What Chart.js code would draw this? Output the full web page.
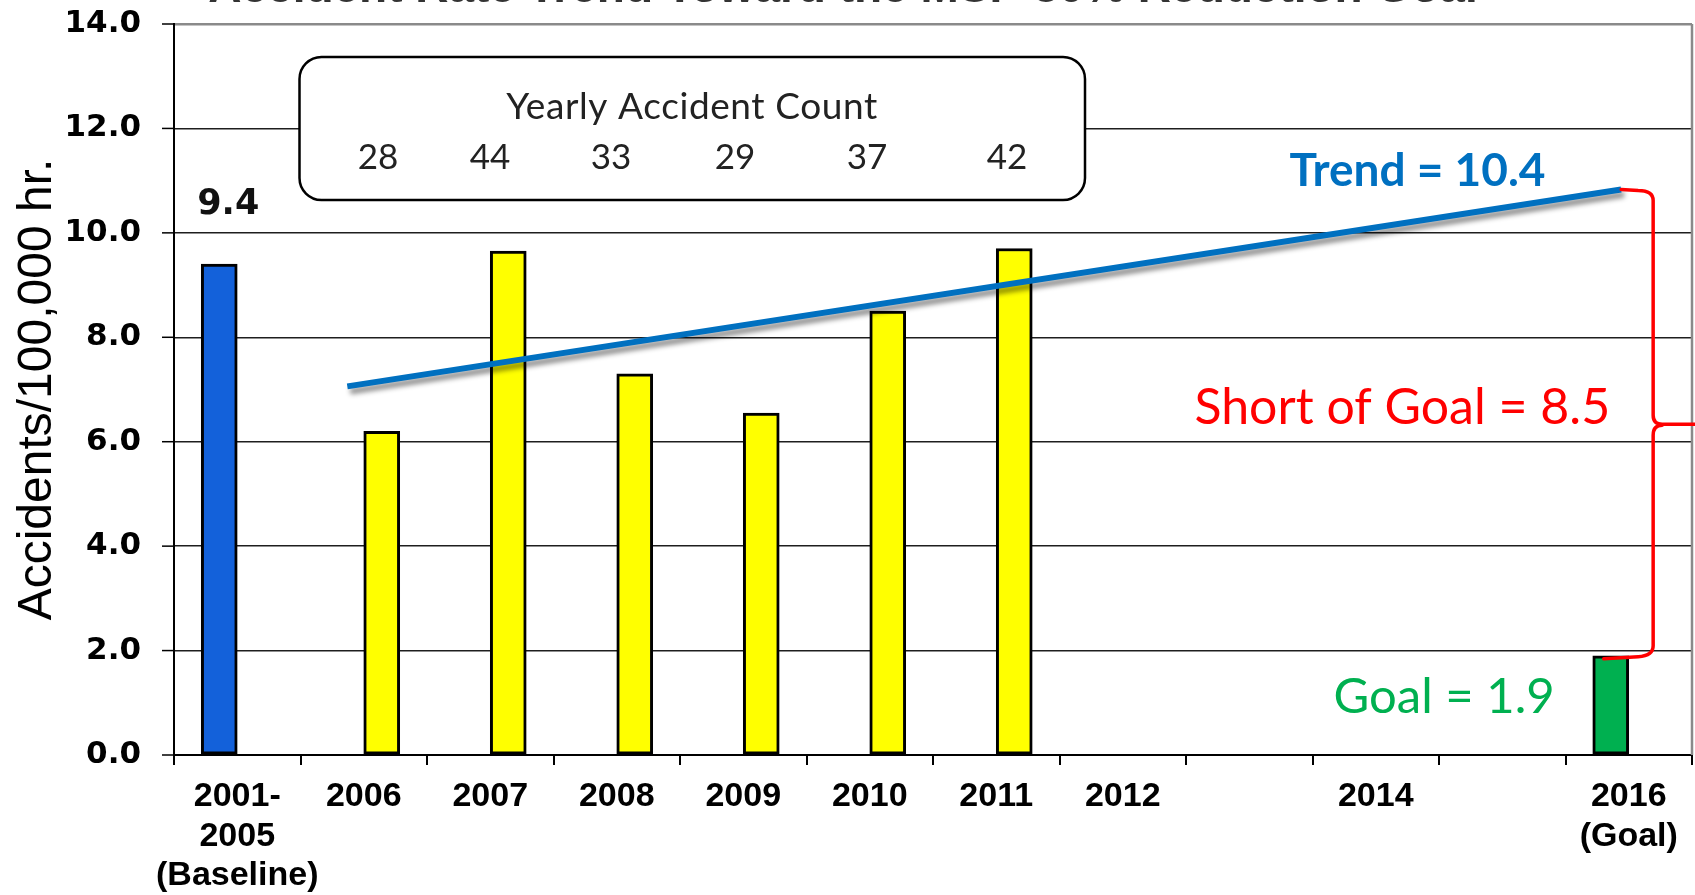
<!DOCTYPE html>
<html><head><meta charset="utf-8">
<script src="https://cdn.jsdelivr.net/npm/chart.js@4.4.1/dist/chart.umd.min.js"></script>
<style>html,body{margin:0;padding:0;background:#fff;overflow:hidden}</style>
</head><body>
<canvas id="c" width="1695" height="895"></canvas>
<script>
// ---- data ----
const chartTitle = 'Accident Rate Trend Toward the MSP 80% Reduction Goal';
const categories = ['2001-2005 (Baseline)','2006','2007','2008','2009','2010','2011','2012','2013','2014','2015','2016 (Goal)'];
const xTickLabels = [['2001-','2005','(Baseline)'],'2006','2007','2008','2009','2010','2011','2012','','2014','',['2016','(Goal)']];
const baselineGoalRates = [9.4,null,null,null,null,null,null,null,null,null,null,1.9];
const yearlyRates = [null,6.2,9.65,7.3,6.55,8.5,9.7,null,null,null,null,null];
const trendX = [0.87, 10.94];   // in category-index units
const trendY = [7.06, 10.83];
const yearlyCounts = [28,44,33,29,37,42];
const yTickValues = [0,2,4,6,8,10,12,14];
const baselineLabel = '9.4';
const trendLabel = 'Trend = 10.4';
const shortLabel = 'Short of Goal = 8.5';
const goalLabel = 'Goal = 1.9';
const countBoxTitle = 'Yearly Accident Count';

const BLUE = '#1361DA', GREEN = '#00B050', YELLOW = '#FFFF00', TREND = '#0070C0';
const SLOT = 18;        // half distance between the two bar slots (px)
const Y_TICK_MARK = 12; // visible tick mark length (px)

const annot = {
  id: 'annot',
  afterLayout(chart) {
    const ca = chart.chartArea, sc = chart.scales;
    const set = (s, d) => { s.left = ca.left + d; s.right = ca.right + d; s.width = ca.right - ca.left; s.configure(); };
    set(sc.xt, 0); set(sc.xl, -SLOT); set(sc.xr, SLOT);
  },
  beforeDatasetDraw(chart, args) {
    if (args.index === 2) {
      const ctx = chart.ctx;
      ctx.save();
      ctx.shadowColor = 'rgba(0,0,0,0.45)';
      ctx.shadowBlur = 5;
      ctx.shadowOffsetX = 3;
      ctx.shadowOffsetY = 5;
    }
  },
  afterDatasetDraw(chart, args) {
    if (args.index === 2) chart.ctx.restore();
  },
  beforeDatasetsDraw(chart) {
    const ctx = chart.ctx, ca = chart.chartArea, y = chart.scales.y;
    ctx.save();
    ctx.strokeStyle = '#000'; ctx.lineWidth = 1.5;
    yTickValues.forEach(v => {
      const py = y.getPixelForValue(v);
      ctx.beginPath(); ctx.moveTo(ca.left - Y_TICK_MARK, py); ctx.lineTo(ca.left, py); ctx.stroke();
    });
    ctx.restore();
  },
  afterDraw(chart) {
    const ctx = chart.ctx, ca = chart.chartArea;
    const y = chart.scales.y, xt = chart.scales.xt;
    ctx.save();
    ctx.strokeStyle = '#8a8a8a'; ctx.lineWidth = 2.5;
    ctx.beginPath(); ctx.moveTo(ca.right, ca.top); ctx.lineTo(ca.right, ca.bottom); ctx.stroke();

    // title, clipped by the top edge as in the original
    ctx.fillStyle = '#333';
    ctx.font = 'bold 46px "Liberation Sans", Arial, sans-serif';
    ctx.textAlign = 'center'; ctx.textBaseline = 'alphabetic';
    ctx.fillText(chartTitle, 843, 1.5);

    // count box
    const bx0 = 299.5, by0 = 57, bx1 = 1085, by1 = 200, r = 22;
    ctx.beginPath();
    ctx.moveTo(bx0 + r, by0);
    ctx.lineTo(bx1 - r, by0); ctx.arcTo(bx1, by0, bx1, by0 + r, r);
    ctx.lineTo(bx1, by1 - r); ctx.arcTo(bx1, by1, bx1 - r, by1, r);
    ctx.lineTo(bx0 + r, by1); ctx.arcTo(bx0, by1, bx0, by1 - r, r);
    ctx.lineTo(bx0, by0 + r); ctx.arcTo(bx0, by0, bx0 + r, by0, r);
    ctx.closePath();
    ctx.fillStyle = '#fff'; ctx.fill();
    ctx.strokeStyle = '#000'; ctx.lineWidth = 2.5; ctx.stroke();
    ctx.fillStyle = '#222';
    ctx.textAlign = 'center';
    ctx.font = '37px Lato, "Open Sans", sans-serif';
    ctx.letterSpacing = '0.6px';
    ctx.fillText(countBoxTitle, 692, 119);
    ctx.letterSpacing = '0px';
    ctx.font = '35px Lato, "Open Sans", sans-serif';
    const countX = [378, 490, 611, 735, 867, 1007];
    yearlyCounts.forEach((v, i) => ctx.fillText(String(v), countX[i], 169));

    // baseline value label
    const b0 = chart.getDatasetMeta(0).data[0];
    ctx.fillStyle = '#111';
    ctx.font = 'bold 35px "DejaVu Sans", Verdana, sans-serif';
    ctx.fillText(baselineLabel, b0.x + 9, b0.y - 50);

    // trend label
    ctx.fillStyle = TREND;
    ctx.font = 'bold 46px Lato, "Open Sans", sans-serif';
    ctx.fillText(trendLabel, xt.getPixelForValue(9.33), y.getPixelForValue(10.89));

    // short of goal
    ctx.fillStyle = '#FF0000';
    ctx.font = '50px Lato, "Open Sans", sans-serif';
    ctx.fillText(shortLabel, xt.getPixelForValue(9.21), y.getPixelForValue(6.33));

    // goal
    ctx.fillStyle = GREEN;
    ctx.font = '49px Lato, "Open Sans", sans-serif';
    ctx.fillText(goalLabel, xt.getPixelForValue(9.54), y.getPixelForValue(0.8));

    // red brace
    const x0 = xt.getPixelForValue(trendX[1]), y0 = y.getPixelForValue(trendY[1]);
    const g = chart.getDatasetMeta(0).data[11];
    const x1 = g.x - 7, y1 = g.y + 3;
    const bx = x0 + 32, tipX = chart.width, ym = (y0 + y1) / 2, rr = 9;
    ctx.strokeStyle = '#FF0000'; ctx.lineWidth = 3.5; ctx.lineJoin = 'round'; ctx.lineCap = 'round';
    ctx.beginPath();
    ctx.moveTo(x0, y0);
    ctx.lineTo(bx - rr - 6, y0 + 1);
    ctx.quadraticCurveTo(bx, y0 + 1, bx, y0 + rr + 2);
    ctx.lineTo(bx, ym - rr);
    ctx.quadraticCurveTo(bx, ym, bx + rr, ym);
    ctx.lineTo(tipX, ym);
    ctx.moveTo(bx + rr, ym + 1);
    ctx.quadraticCurveTo(bx, ym + 1, bx, ym + rr + 2);
    ctx.lineTo(bx, y1 - rr - 4);
    ctx.quadraticCurveTo(bx, y1 - 3, bx - rr - 6, y1 - 2);
    ctx.lineTo(x1, y1);
    ctx.stroke();
    ctx.restore();
  }
};

new Chart(document.getElementById('c'), {
  type: 'bar',
  data: {
    labels: xTickLabels,
    datasets: [
      { label: 'Baseline / Goal', data: baselineGoalRates, xAxisID: 'xl',
        backgroundColor: c => c.dataIndex === 0 ? BLUE : GREEN,
        borderColor: '#000', borderWidth: 3, borderSkipped: false,
        barThickness: 36, grouped: false },
      { label: 'Accident rate', data: yearlyRates, xAxisID: 'xr',
        backgroundColor: YELLOW, borderColor: '#000', borderWidth: 3, borderSkipped: false,
        barThickness: 36, grouped: false },
      { type: 'line', label: 'Trend', xAxisID: 'xt',
        data: trendX.map((x, i) => ({ x, y: trendY[i] })),
        borderColor: TREND, borderWidth: 6, pointRadius: 0, order: -1 }
    ]
  },
  options: {
    responsive: false, animation: false,
    layout: { padding: { top: 24, right: 3, left: 0, bottom: 0 } },
    plugins: { legend: { display: false }, tooltip: { enabled: false }, title: { display: false } },
    scales: {
      x: {
        type: 'category', offset: true,
        grid: { offset: true, drawOnChartArea: false, drawTicks: true, tickLength: 10, color: '#000', lineWidth: 2 },
        border: { color: '#000', width: 2 },
        ticks: { font: { family: '"Liberation Sans", Arial, sans-serif', weight: 'bold', size: 34, lineHeight: 1.16 },
                 color: '#000', padding: 12, maxRotation: 0, minRotation: 0, autoSkip: false },
        afterFit: s => { s.height = 140; }
      },
      xl: { type: 'category', display: false, offset: true },
      xr: { type: 'category', display: false, offset: true },
      xt: { type: 'linear', display: false, min: -0.5, max: 11.5, bounds: 'data', offset: false, grid: { offset: false } },
      y: {
        min: 0, max: 14,
        afterBuildTicks: s => { s.ticks = yTickValues.map(v => ({ value: v })); },
        ticks: { callback: v => Number(v).toFixed(1),
                 font: { family: '"DejaVu Sans", Verdana, sans-serif', weight: 'bold', size: 31 },
                 color: '#000', padding: 0 },
        grid: { color: c => c.tick && c.tick.value === 14 ? '#8a8a8a' : '#1e1e1e',
                lineWidth: c => c.tick && c.tick.value === 14 ? 2.5 : 1.5,
                tickLength: 33, tickColor: 'rgba(0,0,0,0)' },
        border: { color: '#000', width: 2 },
        title: { display: true, text: 'Accidents/100,000 hr.',
                 font: { family: '"Liberation Sans", Arial, sans-serif', size: 48 },
                 color: '#000', padding: { top: 9, bottom: 0 } },
        afterFit: s => { s.width = 174; }
      }
    }
  },
  plugins: [annot]
});
</script>
</body></html>
